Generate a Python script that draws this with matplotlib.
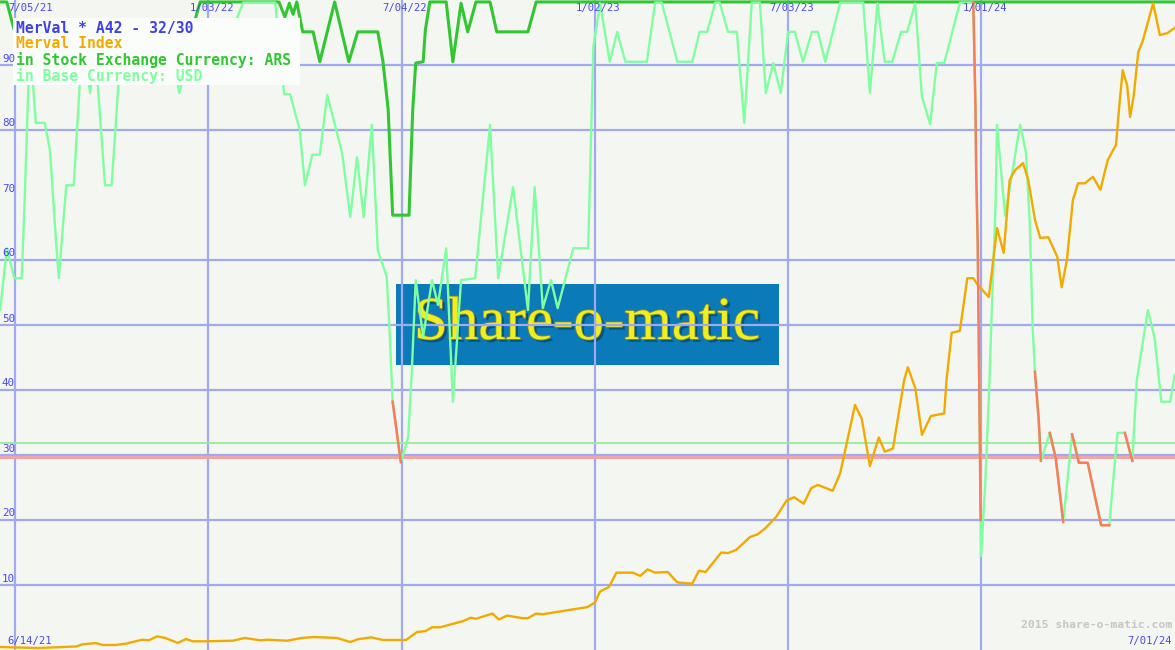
import numpy as np
import matplotlib
matplotlib.use('Agg')
from matplotlib import pyplot as plt
from matplotlib.patches import Rectangle
import matplotlib.patheffects as pe

# x is in weeks counted from 7/05/21, y is the 0-100 ranking scale
title = 'MerVal * A42 - 32/30'
legend_lines = ['Merval Index', 'in Stock Exchange Currency: ARS', 'in Base Currency: USD']

grid_weeks = [0, 26, 52, 78, 104, 130]
grid_labels = ['7/05/21', '1/03/22', '7/04/22', '1/02/23', '7/03/23', '1/01/24']
y_grid = [10, 20, 30, 40, 50, 60, 80, 90]
y_labels = [10, 20, 30, 40, 50, 60, 70, 80, 90]
first_date = '6/14/21'
last_date = '7/01/24'

# rank in ARS (dark green)
ars_wk = [-2.0, -1.1, -0.4, 1, 3, 5, 8, 11, 14, 17, 20, 22, 24.2, 24.9, 35.5, 36.3, 36.9, 37.4,
          37.9, 38.7, 40.1, 41.0, 43.0, 44.9, 46.1, 48.8, 49.5, 50.2, 50.8, 53.0, 53.5, 53.9,
          54.9, 55.2, 55.8, 58.0, 58.9, 60.0, 60.9, 62.0, 63.9, 64.8, 69.0, 70.1, 156.0]
ars_val = [99.7, 99.7, 96.6, 91, 90.5, 95, 90.5, 95, 92, 95, 90.5, 95, 96.9, 99.7, 99.7, 97.4, 99.5, 97.8,
           99.7, 95.1, 95.1, 90.5, 99.7, 90.5, 95.1, 95.1, 90.5, 83.1, 66.9, 66.9, 83.1, 90.3,
           90.5, 95.4, 99.7, 99.7, 90.5, 99.5, 95.1, 99.7, 99.7, 95.1, 95.1, 99.7, 99.7]

# rank in USD (light green)
usd_wk = [-2.0, -1.1, -0.1, 0.9, 1.3, 2.0, 2.8, 4.0, 4.7, 5.5, 5.9, 6.3, 6.9, 7.9, 8.7, 9.3, 10.1,
          10.8, 11.8, 12.1, 13.0, 13.9, 14.8, 18.2, 20.9, 22.1, 23.5, 26.9, 29.5, 30.7, 35.0, 36.2,
          37.0, 38.3, 39.0, 40.0, 41.0, 42.0, 44.0, 45.1, 46.0, 46.9, 48.0, 48.8, 50.0, 50.4, 50.8,
          51.9, 52.9, 53.4, 53.9, 54.9, 56.1, 56.9, 58.0, 58.9, 60.0, 61.9, 63.9, 65.0, 67.0, 69.0,
          69.9, 71.0, 72.1, 73.0, 75.1, 77.1, 77.8, 78.7, 80.0, 81.0, 82.1, 85.0, 86.1, 87.0, 89.1,
          91.1, 92.1, 93.1, 94.2, 94.8, 95.9, 97.1, 98.1, 99.1, 100.2, 101.0, 102.0, 103.0, 104.0,
          104.9, 106.0, 107.2, 108.0, 109.0, 111.0, 114.1, 115.0, 116.0, 117.0, 118.0, 119.2, 120.0,
          121.1, 122.0, 123.1, 124.0, 125.0, 127.1, 128.9, 129.0, 129.2, 129.3, 129.5, 129.7, 129.9,
          129.95, 130.5, 131.0, 131.4, 131.9, 132.1, 132.8, 133.2, 133.9, 134.6, 135.2, 136.0, 136.5,
          136.9, 137.2, 137.7, 138.0, 139.2, 140.0, 141.0, 142.2, 143.1, 144.3, 146.1, 147.2, 148.3,
          149.3, 150.3, 150.9, 152.4, 153.3, 154.2, 155.4, 156.0]
usd_val = [52.3, 61.8, 57.2, 57.2, 69.2, 93.8, 81.1, 81.1, 76.9, 63.1, 57.2, 63.1, 71.5, 71.5, 86.9, 92.3, 85.7,
           92.3, 76.2, 71.5, 71.5, 86.9, 93.1, 90.0, 93.1, 85.7, 92.3, 90.0, 96.2, 99.6, 99.6, 85.5,
           85.5, 80.0, 71.5, 76.2, 76.2, 85.4, 76.5, 66.6, 75.8, 66.6, 80.8, 61.5, 57.4, 48.8, 38.2,
           28.9, 32.8, 43.5, 56.9, 48.2, 56.9, 53.1, 61.8, 38.2, 56.9, 57.2, 80.8, 57.2, 71.2, 52.3,
           71.2, 52.6, 56.9, 52.6, 61.8, 61.8, 92.8, 99.5, 90.5, 95.1, 90.5, 90.5, 99.6, 99.6, 90.5,
           90.5, 95.1, 95.1, 99.6, 99.6, 95.1, 95.1, 81.1, 99.6, 99.6, 85.7, 90.3, 85.7, 95.1,
           95.1, 90.5, 95.1, 95.1, 90.5, 99.6, 99.6, 85.7, 99.5, 90.5, 90.5, 95.1, 95.1,
           99.5, 85.1, 80.9, 90.3, 90.3, 99.6, 99.6, 94.6, 83.5, 73.4, 62.6, 41.5, 20.0,
           14.5, 25.2, 38.8, 52.3, 68.5, 80.8, 71.7, 66.8, 71.7, 76.5, 80.8, 76.5, 65.7,
           49.5, 42.8, 35.5, 29.1, 33.4, 29.5, 19.7, 33.2, 28.8, 28.8, 19.2, 19.2, 33.4,
           33.4, 29.1, 41.5, 52.3, 48.0, 38.2, 38.2, 42.3]

# falling stretches of the USD rank drawn in red
red_wk = [50.8, 51.9, np.nan,
          128.9, 129.0, 129.2, 129.3, 129.5, 129.7, 129.9, np.nan,
          137.2, 137.7, 138.0, np.nan,
          139.2, 140.0, 141.0, np.nan,
          142.2, 143.1, 144.3, 146.1, 147.2, np.nan,
          149.3, 150.3]
red_val = [38.2, 28.9, np.nan,
           99.6, 94.6, 83.5, 73.4, 62.6, 41.5, 20.0, np.nan,
           42.8, 35.5, 29.1, np.nan,
           33.4, 29.5, 19.7, np.nan,
           33.2, 28.8, 28.8, 19.2, 19.2, np.nan,
           33.4, 29.1]

# Merval index, scaled to the chart
idx_wk = [-2.0, 3.1, 8.3, 9.0, 10.9, 11.8, 13.5, 14.9, 17.1, 18.0, 19.1, 20.2, 21.9, 23.0, 23.9, 25.8,
          29.3, 30.9, 33.0, 34.0, 36.6, 38.6, 40.2, 43.3, 45.1, 46.1, 47.9, 49.5, 52.6, 54.1, 55.2,
          56.1, 57.2, 58.8, 60.3, 61.3, 62.0, 64.2, 65.1, 66.2, 68.2, 69.0, 70.1, 71.0, 73.7, 77.0,
          78.0, 78.7, 79.9, 80.9, 83.1, 84.1, 85.1, 86.1, 87.8, 89.1, 91.1, 92.0, 92.9, 95.0, 95.9,
          97.0, 98.9, 99.9, 100.9, 102.4, 103.8, 104.8, 106.1, 107.1, 108.0, 110.0, 111.0, 113.0,
          113.9, 115.0, 116.2, 117.0, 118.1, 119.6, 120.1, 121.1, 122.0, 123.2, 125.0, 125.3, 126.0,
          127.1, 128.1, 128.9, 129.5, 130.5, 131.0, 132.1, 133.0, 133.8, 134.5, 135.6, 136.3, 137.2,
          137.9, 139.0, 140.2, 140.8, 141.5, 142.3, 143.0, 143.9, 145.0, 146.0, 147.0, 148.1, 148.5,
          149.0, 149.6, 150.0, 150.5, 151.1, 151.7, 153.1, 154.0, 155.0, 156.0]
idx_val = [0.46, 0.3, 0.55, 0.86, 1.07, 0.77, 0.77, 0.97, 1.58, 1.49, 2.1, 1.85, 1.08, 1.7, 1.34, 1.34,
           1.43, 1.85, 1.49, 1.58, 1.43, 1.85, 2.0, 1.85, 1.23, 1.65, 1.95, 1.54, 1.54, 2.78, 2.9,
           3.5, 3.5, 4.0, 4.45, 4.97, 4.8, 5.6, 4.7, 5.3, 4.9, 4.9, 5.6, 5.5, 6.0, 6.6,
           7.3, 9.0, 9.7, 11.9, 11.9, 11.4, 12.4, 11.9, 12.0, 10.4, 10.2, 12.2, 12.0, 15.0, 14.9,
           15.4, 17.4, 17.8, 18.7, 20.5, 23.0, 23.5, 22.5, 24.9, 25.4, 24.5, 27.2, 37.7,
           35.6, 28.3, 32.7, 30.5, 31.0, 41.5, 43.5, 40.3, 33.1, 36.0, 36.4, 41.5, 48.8,
           49.1, 57.2, 57.2, 56.2, 54.9, 54.3, 64.9, 61.1, 72.3, 73.8, 74.9, 72.3, 66.2,
           63.4, 63.5, 60.5, 55.8, 60.0, 69.2, 71.8, 71.8, 72.8, 70.8, 75.4, 77.7, 83.1,
           89.2, 86.9, 82.0, 85.4, 92.0, 93.7, 99.5, 94.6, 94.9, 95.7]

usd_level = 31.8
ars_level = 29.7

W, H = 1175, 650
fig = plt.figure(figsize=(W / 100, H / 100), dpi=100)
ax = fig.add_axes([0, 0, 1, 1])
ax.set_facecolor('#f4f6f2')
ax.set_xlim(-2.02, 156.04)
ax.set_ylim(0, 100)
for s in ax.spines.values():
    s.set_visible(False)
ax.set_xticks(grid_weeks)
ax.set_yticks(y_grid)
ax.tick_params(length=0, labelbottom=False, labelleft=False)
ax.grid(True, color='#a2aaef', lw=1.6, zorder=1)

def px(x, y):
    return x / W, 1 - y / H

# watermark box
ax.add_patch(Rectangle(px(396, 365), 383 / W, 81 / H, transform=ax.transAxes,
                       facecolor='#0a7ab9', edgecolor='none', zorder=0.5))
ax.text(*px(587, 339), 'Share-o-matic', transform=ax.transAxes, ha='center', va='baseline',
        fontsize=44, family='Liberation Serif', color='#eeee22', zorder=0.6,
        path_effects=[pe.withSimplePatchShadow(offset=(2, -2), shadow_rgbFace='#064a70', alpha=0.8),
                      pe.withStroke(linewidth=1.2, foreground='#8a8a30')])

ax.axhline(usd_level, color='#98ec98', lw=1.3, zorder=1.6)
ax.axhline(ars_level, color='#f4a0a0', lw=2.0, zorder=1.6)

ax.plot(ars_wk, ars_val, color='#33c633', lw=2.2, zorder=2)
ax.plot(usd_wk, usd_val, color='#80ffa0', lw=1.7, zorder=3)
ax.plot(idx_wk, idx_val, color='#f2aa00', lw=1.7, zorder=4)
ax.plot(red_wk, red_val, color='#fa7c58', lw=1.8, zorder=4.5)

mono = 'DejaVu Sans Mono'
lab_col = '#4848f0'
for v in y_labels:
    ax.text(2 / W, v + 1.0, str(v), transform=ax.get_yaxis_transform(), ha='left', va='center',
            fontsize=7.8, family=mono, color=lab_col, zorder=6)
for i, (wk, lab) in enumerate(zip(grid_weeks, grid_labels)):
    if i == 0:
        ax.text(8 / W, 1 - 8 / H, lab, transform=ax.transAxes, ha='left', va='center',
                fontsize=7.6, family=mono, color=lab_col, zorder=6)
    else:
        ax.text(wk + 0.45, 100 - 8 / 6.5, lab, ha='center', va='center',
                fontsize=7.6, family=mono, color=lab_col, zorder=6)
ax.text(*px(7, 641), first_date, transform=ax.transAxes, ha='left', va='center',
        fontsize=7.6, family=mono, color=lab_col, zorder=6)
ax.text(*px(1172, 641), last_date, transform=ax.transAxes, ha='right', va='center',
        fontsize=7.6, family=mono, color=lab_col, zorder=6)
ax.text(*px(1172, 625), '2015 share-o-matic.com', transform=ax.transAxes, ha='right', va='center',
        fontsize=8.2, family=mono, weight='bold', color='#c6c6c6', zorder=6)

# legend block
ax.add_patch(Rectangle(px(13, 85), 287 / W, 67 / H, transform=ax.transAxes,
                       facecolor='#fbfdfb', edgecolor='none', zorder=5))
leg_colors = ['#4040e6', '#f2aa00', '#33c633', '#80ffa0']
for j, (txt, c) in enumerate(zip([title] + legend_lines, leg_colors)):
    ax.text(*px(16, 28 + 16 * j), txt, transform=ax.transAxes, ha='left', va='center',
            fontsize=10.6, family=mono, weight='bold', color=c, zorder=6)

fig.savefig('out.png', dpi=100)
